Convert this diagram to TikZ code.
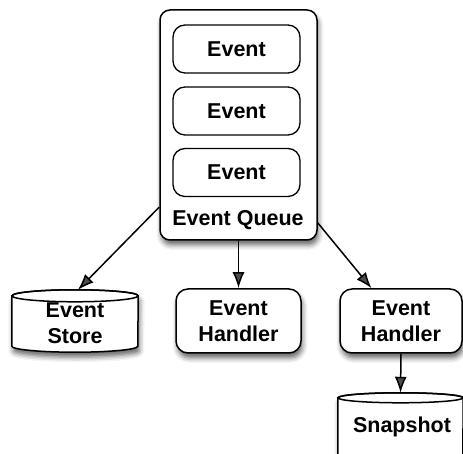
\documentclass[tikz,border=0pt]{standalone}
\usepackage{fontspec}
\setmainfont{Liberation Sans}
\usetikzlibrary{arrows.meta,shadows.blur,calc}

\tikzset{
  lbl/.style={font=\fontsize{21.5}{26}\selectfont\bfseries, align=center, inner sep=0pt},
  shade/.style={blur shadow={shadow xshift=1.5pt, shadow yshift=-5pt,
      shadow blur radius=5pt, shadow opacity=60}},
  queuebox/.style={draw, line width=1.5pt, fill=white, rounded corners=10pt,
      minimum width=157pt, minimum height=230pt, shade},
  eventbox/.style={lbl, draw, line width=1.3pt, fill=white, rounded corners=12pt,
      minimum width=127pt, minimum height=48pt},
  handlerbox/.style={lbl, draw, line width=1.5pt, fill=white, rounded corners=12pt,
      minimum height=64pt, shade},
  cylbody/.style={draw, line width=1.5pt, fill=white, shade},
  cylrim/.style={draw, line width=1.5pt},
  flow/.style={line width=1.5pt, -{Latex[length=16pt,width=12pt]}}
}

\begin{document}
\begin{tikzpicture}[x=1pt, y=1pt]
\useasboundingbox (0,0) rectangle (463,454);

% event queue with its buffered events
\node[queuebox] (queue) at (238.5,329) {};
\node[eventbox] (ev1) at (236.5,405) {Event};
\node[eventbox] (ev2) at (236.5,343) {Event};
\node[eventbox] (ev3) at (236.5,281.5) {Event};
\node[lbl] (qlabel) at (238,234) {Event Queue};

% consumers
\node[handlerbox, minimum width=125pt] (h1) at (238.5,133) {Event\\Handler};
\node[handlerbox, minimum width=122pt] (h2) at (401,133) {Event\\Handler};

% event store cylinder
\node[minimum width=126pt, minimum height=62pt, inner sep=0pt] (store) at (75,133) {};
\path[cylbody] ([yshift=-6pt]store.north west) -- ([yshift=6pt]store.south west)
  arc[start angle=180, end angle=360, x radius=63, y radius=6]
  -- ([yshift=-6pt]store.north east)
  arc[start angle=0, end angle=180, x radius=63, y radius=6] -- cycle;
\path[cylrim] ([yshift=-6pt]store.north) ellipse[x radius=63, y radius=6];
\node[lbl] (storetext) at (75,131) {Event\\Store};

% snapshot cylinder
\node[minimum width=125pt, minimum height=69pt, inner sep=0pt] (snap) at (400.5,26.5) {};
\path[cylbody] ([yshift=-5pt]snap.north west) -- ([yshift=5pt]snap.south west)
  arc[start angle=180, end angle=360, x radius=62.5, y radius=5]
  -- ([yshift=-5pt]snap.north east)
  arc[start angle=0, end angle=180, x radius=62.5, y radius=5] -- cycle;
\path[cylrim] ([yshift=-5pt]snap.north) ellipse[x radius=62.5, y radius=5];
\node[lbl] (snaptext) at (402,27) {Snapshot};

% connectors
\draw[flow] (queue.226.6) -- ([xshift=3pt]store.north);
\draw[flow] (queue.south) -- (h1.north);
\draw[flow] (queue.309.6) -- (h2.132);
\draw[flow] (h2.south) -- (snap.north);
\end{tikzpicture}
\end{document}
